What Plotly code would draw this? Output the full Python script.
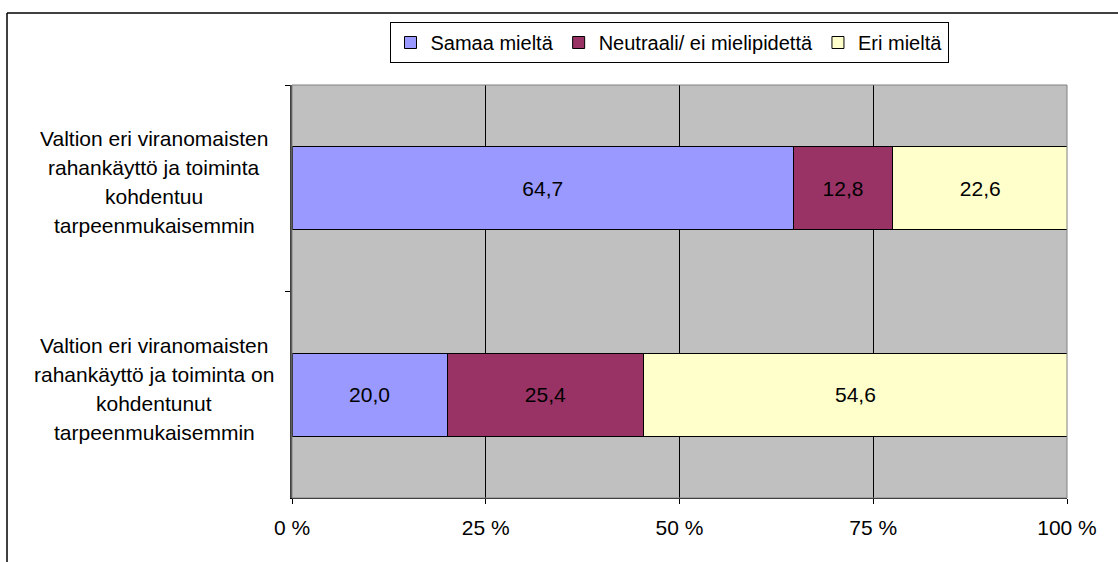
import plotly.graph_objects as go

categories = [
    "Valtion eri viranomaisten<br>rahankäyttö ja toiminta<br>kohdentuu<br>tarpeenmukaisemmin",
    "Valtion eri viranomaisten<br>rahankäyttö ja toiminta on<br>kohdentunut<br>tarpeenmukaisemmin",
]
series_names = ["Samaa mieltä", "Neutraali/ ei mielipidettä", "Eri mieltä"]
samaa = [64.7, 20.0]
neutraali = [12.8, 25.4]
eri = [22.6, 54.6]
tick_vals = [0, 25, 50, 75, 100]
tick_text = ["0 %", "25 %", "50 %", "75 %", "100 %"]

FONT = "Liberation Sans, Arial"
FS = 21
colors = ["#9999FF", "#993366", "#FFFFCC"]
cat_ids = ["c1", "c2"]

fig = go.Figure()
for name, vals, col in zip(series_names, [samaa, neutraali, eri], colors):
    fig.add_trace(go.Bar(
        y=cat_ids, x=vals, name=name, orientation="h",
        marker=dict(color=col, line=dict(color="black", width=1)),
        text=[f"{v:.1f}".replace(".", ",") for v in vals],
        textposition="inside", insidetextanchor="middle",
        textfont=dict(family=FONT, size=FS, color="black"),
        width=0.4,
    ))

W, H = 1118, 562
L, R, T, B = 292, 51, 85, 64
pw, ph = W - L - R, H - T - B

def px2x(px):
    return (px - L) / pw

def py2y(py):
    return 1 - (py - T) / ph

annotations = []
for cid, lab in zip(cat_ids, categories):
    lines = lab.split("<br>")
    n = len(lines)
    for i, ln in enumerate(lines):
        annotations.append(dict(
            x=px2x(154), xref="paper", y=cid, yref="y", text=ln, showarrow=False,
            xanchor="center", yanchor="middle",
            yshift=6 - (i - (n - 1) / 2) * 29,
            font=dict(family=FONT, size=FS, color="black"),
        ))

shapes = [
    dict(type="rect", xref="paper", yref="paper", x0=0, x1=1, y0=0, y1=1,
         line=dict(color="#808080", width=1), layer="above"),
    dict(type="line", xref="paper", yref="paper", x0=px2x(7), x1=px2x(1130), y0=py2y(13), y1=py2y(13),
         line=dict(color="black", width=1.5)),
    dict(type="line", xref="paper", yref="paper", x0=px2x(7), x1=px2x(7), y0=py2y(13), y1=py2y(600),
         line=dict(color="black", width=1.5)),
]

fig.update_layout(
    width=W, height=H,
    barmode="stack",
    margin=dict(l=L, r=R, t=T, b=B),
    paper_bgcolor="white",
    plot_bgcolor="#C0C0C0",
    font=dict(family=FONT, size=FS, color="black"),
    showlegend=True,
    legend=dict(
        orientation="h", x=px2x(669), xanchor="center", y=py2y(22), yanchor="top",
        bgcolor="white", bordercolor="black", borderwidth=1,
        font=dict(family=FONT, size=20), traceorder="normal",
        itemwidth=30, tracegroupgap=0,
    ),
    xaxis=dict(
        range=[0, 100], tickvals=tick_vals, ticktext=tick_text,
        showgrid=True, gridcolor="black", gridwidth=1,
        ticks="outside", ticklen=5, tickcolor="black",
        showline=True, linecolor="black", linewidth=1,
        zeroline=False, fixedrange=True,
        tickfont=dict(family=FONT, size=FS),
        ticklabelstandoff=6,
    ),
    yaxis=dict(
        categoryorder="array", categoryarray=cat_ids,
        autorange="reversed",
        showticklabels=False,
        ticks="outside", tickson="boundaries", ticklen=5, tickcolor="black",
        showline=True, linecolor="#404040", linewidth=2,
        showgrid=False, zeroline=False, fixedrange=True,
    ),
    annotations=annotations,
    shapes=shapes,
    bargap=0.6,
)

fig.write_html("out.html", config={"displayModeBar": False},
               post_script="document.body.style.margin='0';document.body.style.overflow='hidden';")
